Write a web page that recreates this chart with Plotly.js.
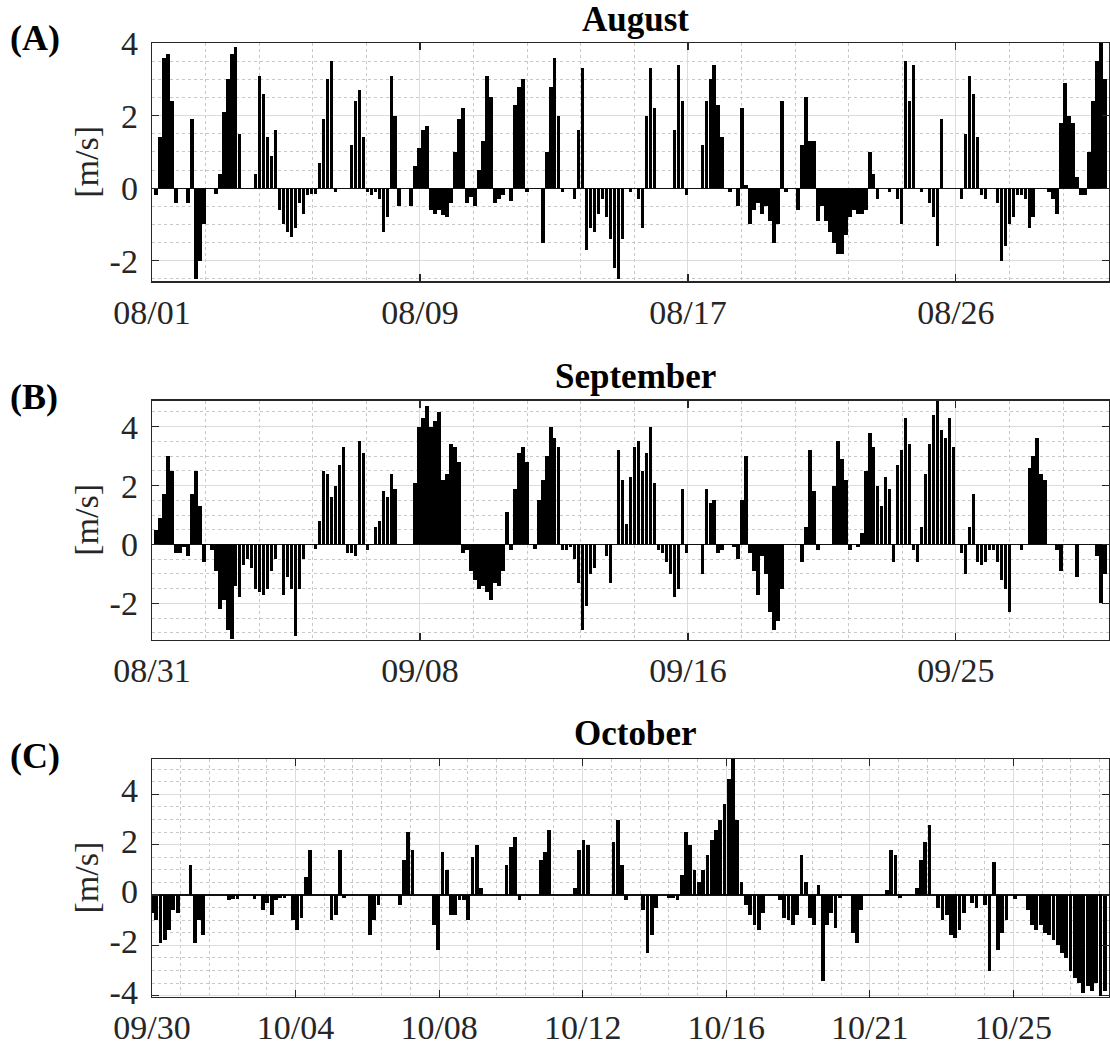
<!DOCTYPE html>
<html>
<head>
<meta charset="utf-8">
<script src="https://cdn.plot.ly/plotly-3.0.1.min.js"></script>
<style>
html,body{margin:0;padding:0;background:#ffffff;}
#chart{width:1110px;height:1047px;}
</style>
</head>
<body>
<div id="chart"></div>
<script>
// ---------------- data ----------------
// one value every 3 hours (8 per day), current speed in m/s
const SAMPLE_STEP_DAYS = 0.125;

const panelTitles = ['August', 'September', 'October'];
const panelLetters = ['(A)', '(B)', '(C)'];
const yAxisLabel = '[m/s]';

const augustTickLabels = ['08/01', '08/09', '08/17', '08/26'];
const septemberTickLabels = ['08/31', '09/08', '09/16', '09/25'];
const octoberTickLabels = ['09/30', '10/04', '10/08', '10/12', '10/16', '10/21', '10/25'];

const augustYTicks = [-2, 0, 2, 4];
const septemberYTicks = [-2, 0, 2, 4];
const octoberYTicks = [-4, -2, 0, 2, 4];

const augustSpeed = [
  0, -0.2, 1.4, 3.6, 3.7, 2.4, -0.4, 0,
  0, -0.4, 1.9, -2.5, -2.0, -1.0, 0, 0,
  -0.15, 0.4, 2.1, 3.0, 3.7, 3.9, 1.5, 0,
  0, 0, 0.4, 3.1, 2.6, 1.4, 0.9, 1.6,
  -0.6, -1.0, -1.2, -1.35, -1.1, -0.4, -0.7, -0.2,
  -0.15, -0.15, 0.7, 1.9, 3.0, 3.5, -0.1, 0,
  0, 0, 1.2, 2.4, 2.7, 1.4, -0.1, -0.2,
  -0.1, -0.3, -1.2, -0.8, 3.1, 2.0, -0.5, 0,
  0, -0.5, 0.6, 1.1, 1.6, 1.7, -0.6, -0.7,
  -0.6, -0.75, -0.8, -0.4, 1.0, 1.9, 2.2, -0.4,
  -0.25, -0.5, 0.5, 1.3, 3.1, 2.5, -0.4, -0.3,
  -0.2, 0, -0.35, 2.3, 2.8, 3.0, -0.1, 0,
  0, 0, -1.5, 1.0, 2.8, 3.6, 2.0, -0.1,
  0, 0, -0.3, 1.6, 3.3, -1.7, -1.1, -1.2,
  -0.7, -0.3, -0.8, -1.4, -2.2, -2.5, -1.4, 0,
  -0.1, 0, -0.3, -1.1, 2.0, 3.3, 2.2, 0,
  0, 0, 0, 1.6, 3.4, 2.4, -0.2, 0,
  0, 0, 1.2, 2.4, 3.0, 3.4, 2.3, 1.4,
  0, -0.1, 0, -0.5, 2.2, 0.1, -1.0, -0.6,
  -0.4, -0.7, -0.5, -0.9, -1.5, -1.0, 2.4, -0.1,
  0, 0, -0.6, 1.2, 2.5, 1.3, 1.3, -0.9,
  -0.5, -0.9, -1.2, -1.5, -1.8, -1.8, -1.3, -0.8,
  -0.6, -0.7, -0.7, -0.6, 1.0, 0.4, -0.3, 0,
  0, -0.1, 0, -0.3, -1.0, 3.5, 2.4, 3.4,
  0, -0.1, 0, -0.4, -0.8, -1.6, 1.9, 0,
  0, 0, 0, -0.3, 1.5, 3.1, 2.6, 1.4,
  -0.2, -0.3, 0, 0, -0.4, -2.0, -1.6, -1.0,
  -0.8, -0.2, -0.2, -0.3, -1.1, -0.8, 0, 0,
  0, -0.1, -0.3, -0.7, 1.8, 2.9, 2.0, 1.8,
  0.3, -0.2, -0.2, 1.0, 2.4, 3.5, 4.0, 3.0
];

const septemberSpeed = [
  0, 0.5, 0.9, 1.7, 3.0, 2.5, -0.3, -0.3,
  -0.1, -0.4, 1.7, 2.5, 1.3, -0.6, 0, -0.2,
  -0.9, -2.2, -1.9, -2.9, -3.2, -1.4, -1.8, -0.7,
  -0.5, -0.8, -1.5, -1.6, -1.7, -1.5, -0.9, -0.5,
  0, -1.7, -1.1, -1.5, -3.1, -1.5, -0.5, 0,
  0, -0.15, 0.8, 2.5, 2.4, 1.6, 2.0, 2.7,
  3.3, -0.3, -0.3, -0.4, 3.5, 3.1, -0.2, 0,
  0.6, 0.8, 1.8, 1.6, 2.4, 1.9, 0, 0,
  0, 0, 2.1, 4.0, 4.3, 4.7, 4.0, 4.2,
  4.5, 2.2, 2.4, 3.4, 3.3, 2.8, -0.3, -0.2,
  -0.9, -1.2, -1.5, -1.4, -1.6, -1.9, -1.3, -1.4,
  -0.9, 1.1, -0.2, 1.9, 3.1, 3.3, 2.8, 0,
  -0.15, 1.5, 2.2, 3.0, 4.0, 3.6, 3.3, -0.2,
  -0.2, -0.1, -0.5, -1.3, -2.9, -2.1, -1.0, -0.8,
  0, 0, -0.4, -1.3, 0, 3.2, 2.2, 0.7,
  2.3, 3.3, 3.5, 2.5, 3.1, 4.0, 2.1, -0.2,
  -0.3, -0.6, -1.0, -1.8, -1.5, 1.9, -0.3, 0,
  0, 0, -1.0, 1.9, 1.4, 1.5, -0.3, -0.2,
  0, 0, -0.1, -0.5, 1.5, 3.0, -0.3, -0.9,
  -1.7, -0.4, -1.0, -2.3, -2.9, -2.6, -1.5, 0,
  0, 0, 0, -0.6, 0.6, 3.2, 1.8, -0.2,
  0, 0, 0, 2.0, 3.5, 2.9, 2.2, -0.2,
  0, -0.1, 0.4, 2.5, 3.8, 3.3, 2.0, 1.3,
  2.3, 1.9, -0.6, 2.7, 3.2, 4.3, 3.4, -0.2,
  -0.6, 0.6, 2.4, 3.4, 4.4, 4.9, 3.9, 3.6,
  4.3, 3.3, 0, -0.3, -1.0, 0.6, 1.7, -0.6,
  -0.7, -0.6, -0.2, -0.2, -0.6, -1.2, -1.5, -2.3,
  0, 0, -0.2, 0, 2.6, 3.0, 3.6, 2.4,
  2.2, 0, 0, -0.2, -0.9, 0, 0, 0,
  -1.1, 0, 0, 0, 0, -0.4, -2.0, -1.0
];

const octoberSpeed = [
  -0.7, -1.0, -1.9, -1.8, -1.4, -0.6, -0.7, 0,
  0, 1.2, -1.9, -1.0, -1.6, 0, 0, 0,
  0, 0, -0.2, -0.15, -0.15, 0, 0, 0,
  -0.15, 0, -0.6, -0.3, -0.8, -0.2, -0.1, -0.1,
  0, -1.0, -1.4, -0.9, 0.7, 1.8, 0, 0,
  0, 0, -1.0, -0.8, 1.8, -0.1, 0, 0,
  0, 0, 0, -1.6, -1.0, -0.4, 0, 0,
  0, 0, -0.4, 1.4, 2.5, 1.8, 0, 0,
  0, 0, -1.2, -2.2, 1.7, 1.0, -0.8, -0.8,
  -0.2, -0.2, -1.0, 1.5, 2.0, 0.3, 0, 0,
  0, 0, 0, 1.2, 1.9, 2.3, -0.2, 0,
  0, 0, 0, 1.4, 1.7, 2.6, 0, 0,
  0, 0, 0, 0.3, 1.8, 2.2, 2.0, 0,
  0, 0, 0, 0, 2.1, 3.0, 1.2, -0.2,
  0, 0, 0, -0.6, -2.3, -1.6, -0.5, 0,
  0, -0.1, -0.1, -0.2, 0.8, 2.5, 2.0, 1.0,
  0.5, 1.0, 1.6, 2.2, 2.6, 3.0, 3.6, 4.6,
  5.4, 3.0, 0.5, -0.4, -0.8, -1.2, -1.4, -0.7,
  0, 0, 0, -0.2, -0.9, -1.0, -1.2, -0.8,
  1.6, 0.5, -0.9, -1.2, 0.4, -3.4, -1.2, -0.7,
  -1.3, -0.1, 0, 0, -1.5, -1.9, -0.6, 0,
  0, 0, 0, 0, 0.2, 1.8, 1.6, -0.1,
  0, 0, 0, 0.3, 1.4, 2.1, 2.8, 0,
  -0.5, -1.0, -0.8, -1.6, -1.7, -1.4, -0.7, 0,
  -0.3, -0.5, 0, -0.4, -3.0, 1.3, -2.2, -1.5,
  -1.0, 0, -0.15, 0, 0, -0.6, -1.2, -1.4,
  -1.2, -1.5, -1.6, -1.8, -2.0, -2.3, -2.5, -3.0,
  -3.3, -3.5, -3.9, -3.6, -3.8, -3.5, -4.0, -3.8
];

// ---------------- layout helpers ----------------
const PLOT_LEFT = 151.5, PLOT_RIGHT = 1109, PLOT_TOP = 43.3, PLOT_BOTTOM = 997;
const PW = PLOT_RIGHT - PLOT_LEFT, PH = PLOT_BOTTOM - PLOT_TOP;
const px2x = X => (X - PLOT_LEFT) / PW;
const px2y = Y => (PLOT_BOTTOM - Y) / PH;

const FONT = 'Liberation Serif';
const INK = '#262626';

function stickTrace(values, xa, ya) {
  return {
    type: 'bar',
    x: values.map((v, i) => i * SAMPLE_STEP_DAYS),
    y: values,
    width: 0.11,
    marker: {color: '#000000', line: {width: 0}},
    xaxis: xa, yaxis: ya,
    hoverinfo: 'skip',
    showlegend: false
  };
}

function xAxis(spanDays, tickEvery, labels, anchor) {
  return {
    anchor: anchor,
    range: [0, spanDays],
    tickmode: 'array',
    tickvals: labels.map((_, i) => i * tickEvery),
    ticktext: labels,
    ticks: 'inside', ticklen: 7, tickwidth: 1.2, tickcolor: INK,
    showline: true, linecolor: INK, linewidth: 1.3, mirror: 'ticks',
    showgrid: true, gridcolor: '#dcdcdc', gridwidth: 1,
    zeroline: false,
    minor: {tick0: 0, dtick: tickEvery / 5, showgrid: true, gridcolor: '#c8c8c8',
            griddash: 'dot', gridwidth: 1, ticks: ''},
    tickfont: {family: FONT, size: 34, color: INK},
    ticklabelstandoff: 0,
    fixedrange: true
  };
}

function yAxis(range, tickvals, topPx, bottomPx, anchor, labelShift) {
  return {
    anchor: anchor,
    domain: [px2y(bottomPx), px2y(topPx)],
    range: range,
    tickmode: 'array',
    tickvals: tickvals,
    ticktext: tickvals.map(v => String(v)),
    ticks: 'inside', ticklen: 7, tickwidth: 1.2, tickcolor: INK,
    showline: true, linecolor: INK, linewidth: 1.3, mirror: 'ticks',
    showgrid: true, gridcolor: '#dcdcdc', gridwidth: 1,
    zeroline: true, zerolinecolor: '#111111', zerolinewidth: 1.2,
    minor: {tick0: 0, dtick: 0.5, showgrid: true, gridcolor: '#c8c8c8',
            griddash: 'dot', gridwidth: 1, ticks: ''},
    tickfont: {family: FONT, size: 34, color: INK},
    ticklabelstandoff: 6,
    ticklabelshift: labelShift || 0,
    fixedrange: true
  };
}

const panels = [
  {top: 43.3, bottom: 281.7, titleY: 19.5, letterY: 38.5},
  {top: 400.7, bottom: 640, titleY: 376.5, letterY: 397.4},
  {top: 759, bottom: 997, titleY: 733.5, letterY: 756.4}
];

const annotations = [];
panels.forEach((p, i) => {
  annotations.push({
    text: '<b>' + panelTitles[i] + '</b>', xref: 'paper', yref: 'paper',
    x: 0.505, y: px2y(p.titleY), xanchor: 'center', yanchor: 'middle',
    showarrow: false, font: {family: FONT, size: 35, color: '#000'}
  });
  annotations.push({
    text: '<b>' + panelLetters[i] + '</b>', xref: 'paper', yref: 'paper',
    x: px2x(7), y: px2y(p.letterY), xanchor: 'left', yanchor: 'middle',
    showarrow: false, font: {family: FONT, size: 36, color: '#000'}
  });
  annotations.push({
    text: yAxisLabel, xref: 'paper', yref: 'paper', textangle: -90,
    x: px2x(86), y: px2y((p.top + p.bottom) / 2), xanchor: 'center', yanchor: 'middle',
    showarrow: false, font: {family: FONT, size: 34, color: INK}
  });
});

const data = [
  stickTrace(augustSpeed, 'x', 'y'),
  stickTrace(septemberSpeed, 'x2', 'y2'),
  stickTrace(octoberSpeed, 'x3', 'y3')
];

const layout = {
  width: 1110, height: 1047,
  margin: {l: PLOT_LEFT, r: 1110 - PLOT_RIGHT, t: PLOT_TOP, b: 1047 - PLOT_BOTTOM, pad: 0},
  paper_bgcolor: '#ffffff', plot_bgcolor: '#ffffff',
  showlegend: false,
  bargap: 0,
  xaxis: xAxis(30, 8.4, augustTickLabels, 'y'),
  yaxis: yAxis([-2.57, 4.0], augustYTicks, panels[0].top, panels[0].bottom, 'x'),
  xaxis2: xAxis(30, 8.4, septemberTickLabels, 'y2'),
  yaxis2: yAxis([-3.24, 4.89], septemberYTicks, panels[1].top, panels[1].bottom, 'x2'),
  xaxis3: xAxis(28, 4.2, octoberTickLabels, 'y3'),
  yaxis3: yAxis([-4.05, 5.41], octoberYTicks, panels[2].top, panels[2].bottom, 'x3', -4),
  annotations: annotations
};

Plotly.newPlot('chart', data, layout, {staticPlot: true, displayModeBar: false});
</script>
</body>
</html>
